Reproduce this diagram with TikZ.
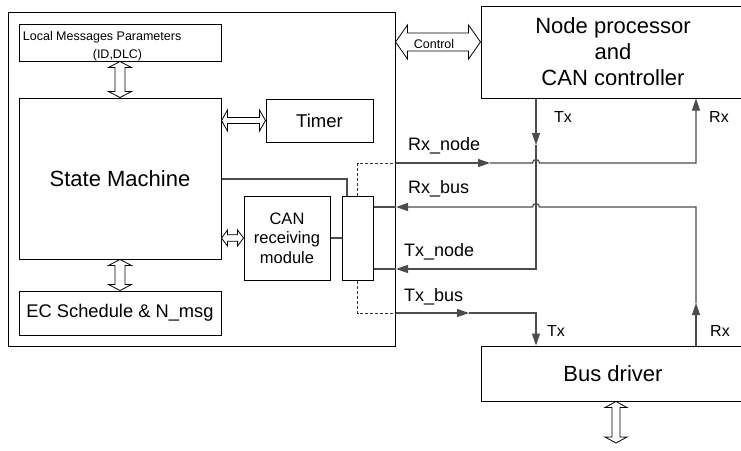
\documentclass[tikz,border=0pt]{standalone}
\usepackage{fontspec}
\setmainfont{Liberation Sans}
\usetikzlibrary{arrows.meta,calc}
\newcommand{\hdbl}[5]{\draw[dbl] (#1) -- ++(#3,-#4) -- ++(0,#4-#5) -- ($(#2)+(-#3,-#5)$) -- ++(0,#5-#4) -- (#2) -- ++(-#3,#4) -- ++(0,#5-#4) -- ($(#1)+(#3,#5)$) -- ++(0,#4-#5) -- cycle;}
\newcommand{\vdbl}[5]{\draw[dbl] (#1) -- ++(-#4,#3) -- ++(#4-#5,0) -- ($(#2)+(-#5,-#3)$) -- ++(#5-#4,0) -- (#2) -- ++(#4,-#3) -- ++(#5-#4,0) -- ($(#1)+(#5,#3)$) -- ++(#4-#5,0) -- cycle;}
\begin{document}
\begin{tikzpicture}[x=1pt,y=-1pt,
 box/.style={draw=black,line width=1pt,rectangle,inner sep=0pt,anchor=center},
 wire/.style={draw=black!70,line width=1.2pt},
 dashw/.style={draw=black!80,line width=0.9pt,dash pattern=on 3pt off 2pt},
 tip/.style={-{Triangle[length=12pt,width=8pt]}},
 dbl/.style={draw=black,line width=0.8pt,fill=white,line join=miter},
 lbl/.style={font=\fontsize{18}{20}\selectfont,inner sep=0pt,anchor=base west},
 lbls/.style={font=\fontsize{16}{18}\selectfont,inner sep=0pt,anchor=base west},
 small/.style={font=\fontsize{12.5}{14}\selectfont,inner sep=0pt}]
\useasboundingbox (0,0) rectangle (741,450);
\clip (0,0) rectangle (741,450);
% boxes
\node[box,minimum width=387pt,minimum height=334pt] (outer) at (201.5,179) {};
\node[box,minimum width=202pt,minimum height=37pt] (local) at (120,42.5) {};
\node[small,anchor=base west] (localt1) at (22.7,40.7) {Local Messages Parameters};
\node[small,anchor=base] (localt2) at (117.5,58.5) {(ID,DLC)};
\node[box,minimum width=202pt,minimum height=161pt,font=\fontsize{22}{26}\selectfont] (sm) at (120,178.5) {State Machine};
\node[box,minimum width=202pt,minimum height=44pt,font=\fontsize{18.3}{22}\selectfont] (ec) at (120,313) {EC Schedule \& N\_msg};
\node[box,minimum width=107pt,minimum height=43pt,font=\fontsize{18.5}{22}\selectfont] (timer) at (319.5,120.5) {Timer};
\node[box,minimum width=86pt,minimum height=84pt,align=center,font=\fontsize{16.5}{19.5}\selectfont] (can) at (287,238) {CAN\\receiving\\module};
\node[box,minimum width=31pt,minimum height=84pt] (sbox) at (357.5,238) {};
\node[box,minimum width=264pt,minimum height=92pt,align=center,font=\fontsize{22}{26}\selectfont] (np) at (613,52) {Node processor\\and\\CAN controller};
\node[box,minimum width=264pt,minimum height=55pt,font=\fontsize{22}{26}\selectfont] (bd) at (613,373.5) {Bus driver};
% double arrows
\vdbl{local.south}{sm.north}{6}{11.5}{5}
\vdbl{sm.south}{ec.north}{6}{11.5}{5}
\hdbl{sm.east |- timer.west}{timer.west}{6}{10.5}{3}
\hdbl{sm.east |- can.west}{can.west}{6}{8}{3.3}
\coordinate (ctl) at (438,42);
\hdbl{outer.east |- ctl}{np.west |- ctl}{12}{17}{9}
\node[small,anchor=base] (ctltxt) at (434,48.5) {Control};
\coordinate (bdend) at (616,443);
\vdbl{bd.south -| bdend}{bdend}{6}{11}{4}
% internal wires
\coordinate (smj) at (347,179);
\draw[wire] (sm.east |- smj) -- (smj) -- (smj |- sbox.north);
\draw[wire] (can.east) -- (sbox.west);
% Rx_node
\coordinate (rxn) at (357.5,163);
\coordinate (rxup) at (696,163);
\draw[dashw] (sbox.north) -- (rxn) -- (outer.east |- rxn);
\draw[wire,tip] (outer.east |- rxn) -- (490,163);
\draw[wire,tip] (490,163) -- (532.5,163) arc[start angle=180,end angle=360,radius=3.5] -- (rxup) -- (rxup |- np.south);
% Rx_bus
\coordinate (rxb) at (696,207);
\draw[wire,tip] (bd.north -| rxb) -- (696,303);
\draw[wire,tip] (696,303) -- (rxb) -- (539.5,207) arc[start angle=0,end angle=-180,radius=3.5] -- (396,207);
\draw[wire] (396,207) -- (sbox.east |- rxb);
% Tx
\coordinate (txc) at (536,269);
\draw[wire,tip] (np.south -| txc) -- (536,145);
\draw[wire,tip] (536,145) -- (txc) -- (396,269);
\draw[wire] (396,269) -- (sbox.east |- txc);
% Tx_bus
\coordinate (txb) at (357.5,313);
\coordinate (txd) at (536,313);
\draw[dashw] (sbox.south) -- (txb) -- (outer.east |- txb);
\draw[wire,tip] (outer.east |- txb) -- (469,313);
\draw[wire,tip] (469,313) -- (txd) -- (txd |- bd.north);
% labels
\node[lbl] (lrxn) at (408,150) {Rx\_node};
\node[lbl] (lrxb) at (408,193) {Rx\_bus};
\node[lbl] (ltxn) at (404,256) {Tx\_node};
\node[lbl] (ltxb) at (404,301) {Tx\_bus};
\node[lbls] (ltx1) at (554,122) {Tx};
\node[lbls] (lrx1) at (709,122) {Rx};
\node[lbls] (ltx2) at (547,336) {Tx};
\node[lbls] (lrx2) at (710,336) {Rx};
\end{tikzpicture}
\end{document}
